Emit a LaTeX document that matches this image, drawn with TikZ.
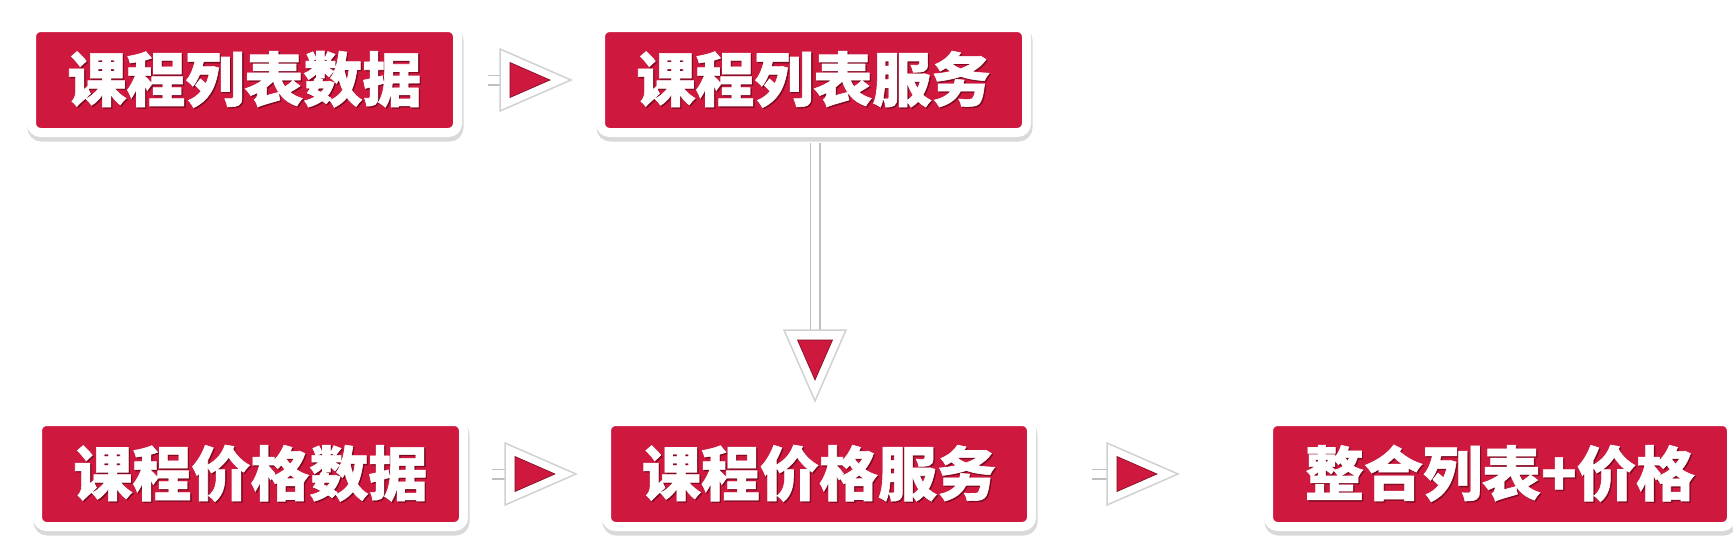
\documentclass[tikz,border=0pt]{standalone}
\usepackage{fontspec}
\newfontfamily\cjk{Noto Sans CJK SC}[BoldFeatures={FakeBold=1}]
\usetikzlibrary{shadows,calc}
\definecolor{boxred}{RGB}{206,24,62}
\definecolor{txtsh}{RGB}{125,10,32}
\newcommand\shtext[1]{\rlap{\kern1.3pt\raisebox{-1.3pt}{\color{txtsh}#1}}#1}
\begin{document}
\begin{tikzpicture}[x=1pt,y=-1pt,
  box/.style={draw=white, line width=9pt, fill=boxred, rounded corners=9pt,
    minimum height=105pt, inner sep=0pt, text=white,
    font=\cjk\bfseries\fontsize{59}{59}\selectfont,
    drop shadow={shadow xshift=1pt, shadow yshift=-4pt, opacity=0.25,
      fill=black!60, draw=black!60, line width=10pt}},
  stub/.style={draw=white, line width=8pt,
    preaction={draw=black!25, line width=11pt}},
  tri/.pic={
    \filldraw[fill=white, draw=black!18, line width=1.5pt, line join=miter]
      (0,-31) -- (71,0) -- (0,31) -- cycle;
    \filldraw[fill=boxred, draw=txtsh, line width=0.6pt]
      (10,-17.5) -- (50,0) -- (10,17.5) -- cycle;
  }]
\useasboundingbox (0,0) rectangle (1733,544);

\node[box, minimum width=426pt] (b1) at (244.5,80) {\shtext{课程列表数据}};
\node[box, minimum width=426pt] (b2) at (813.5,80) {\shtext{课程列表服务}};
\node[box, minimum width=426pt] (b3) at (250.5,474) {\shtext{课程价格数据}};
\node[box, minimum width=425pt] (b4) at (819,474) {\shtext{课程价格服务}};
\node[box, minimum width=463pt] (b5) at (1500,474) {\shtext{整合列表+价格}};

% b1 -> b2
\coordinate (h1) at ($(b1.east)+(38,0)$);
\draw[stub] ($(b1.east)+(26,0)$) -- ($(h1)+(8,0)$);
\pic at (h1) {tri};

% b3 -> b4
\coordinate (h2) at ($(b3.east)+(37,0)$);
\draw[stub] ($(b3.east)+(24,0)$) -- ($(h2)+(8,0)$);
\pic at (h2) {tri};

% b4 -> b5
\coordinate (h3) at ($(b4.east)+(71,0)$);
\draw[stub] ($(b4.east)+(56,0)$) -- ($(h3)+(8,0)$);
\pic at (h3) {tri};

% b2 -> b4 (vertical)
\coordinate (v1) at ($(b2.south)+(1.5,193)$);
\draw[stub] ($(b2.south)+(1.5,6)$) -- ($(v1)+(0,8)$);
\pic[rotate=-90] at (v1) {tri};
\end{tikzpicture}
\end{document}
